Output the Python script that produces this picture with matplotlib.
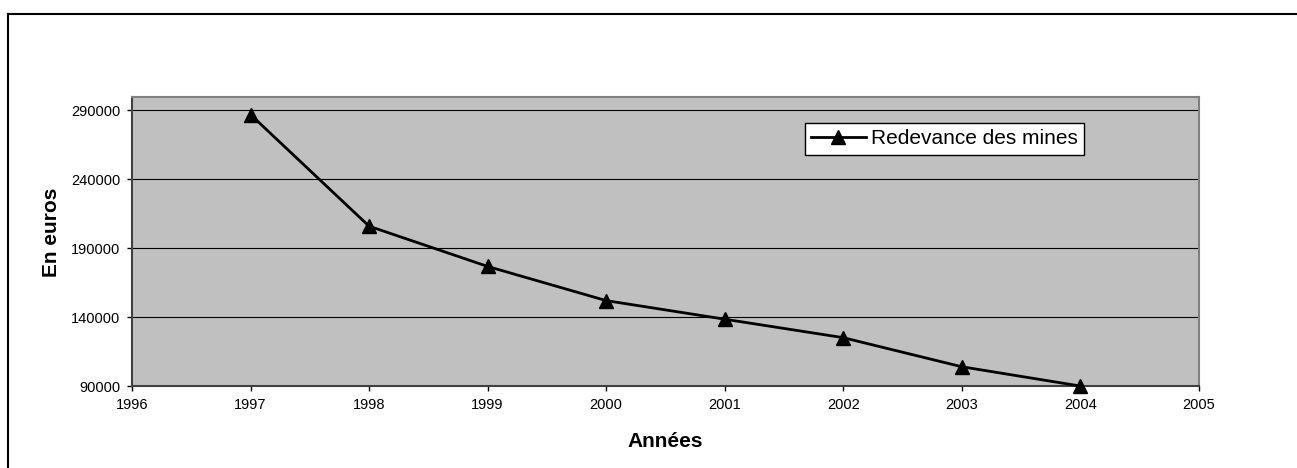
import matplotlib
matplotlib.use("Agg")
import matplotlib.pyplot as plt
from matplotlib.lines import Line2D

# data
years = [1997, 1998, 1999, 2000, 2001, 2002, 2003, 2004]
redevance = [287000, 206000, 176800, 152000, 138500, 125100, 104000, 90000]
y_ticks = [90000, 140000, 190000, 240000, 290000]
x_ticks = list(range(1996, 2006))

plt.rcParams['font.family'] = ['Liberation Sans', 'DejaVu Sans']

fig = plt.figure(figsize=(12.97, 4.68), dpi=100)
ax = fig.add_axes([0.1018, 0.1752, 0.8224, 0.6182])
ax.set_facecolor('#C0C0C0')

for y in y_ticks[1:]:
    ax.axhline(y, color='black', linewidth=0.8, zorder=1)

ax.plot(years, redevance, color='black', linewidth=2, marker='^',
        markersize=10, label='Redevance des mines', zorder=3, clip_on=False)

ax.set_xlim(1996, 2005)
ax.set_ylim(90000, 300000)
ax.set_xticks(x_ticks)
ax.set_yticks(y_ticks)
ax.tick_params(axis='both', direction='out', length=3.6, width=1,
               labelsize=10.5, pad=5, colors='black')

for side in ['top', 'right']:
    ax.spines[side].set_color('#808080')
    ax.spines[side].set_linewidth(1.5)
for side in ['left', 'bottom']:
    ax.spines[side].set_color('#404040')
    ax.spines[side].set_linewidth(1.5)

ax.set_xlabel('Années', fontsize=15, fontweight='bold', va='center')
ax.xaxis.set_label_coords(0.5, -0.1925)
ax.set_ylabel('En euros', fontsize=15, fontweight='bold', va='center', ha='center')
ax.yaxis.set_label_coords(-0.0753, 0.532)

leg = ax.legend(loc='upper left', bbox_to_anchor=(0.631, 0.909), borderaxespad=0,
                fontsize=15, frameon=True, fancybox=False, framealpha=1,
                edgecolor='black', handlelength=2.6, handletextpad=0.25,
                borderpad=0.3)
leg.get_frame().set_linewidth(1)

# outer chart border (cut at right and bottom)
fig.add_artist(Line2D([8 / 1297, 8 / 1297], [0, 1 - 14 / 468], color='black',
                      linewidth=1.5, transform=fig.transFigure))
fig.add_artist(Line2D([8 / 1297, 1], [1 - 14 / 468, 1 - 14 / 468], color='black',
                      linewidth=1.5, transform=fig.transFigure))

fig.savefig('out.png', dpi=100)
